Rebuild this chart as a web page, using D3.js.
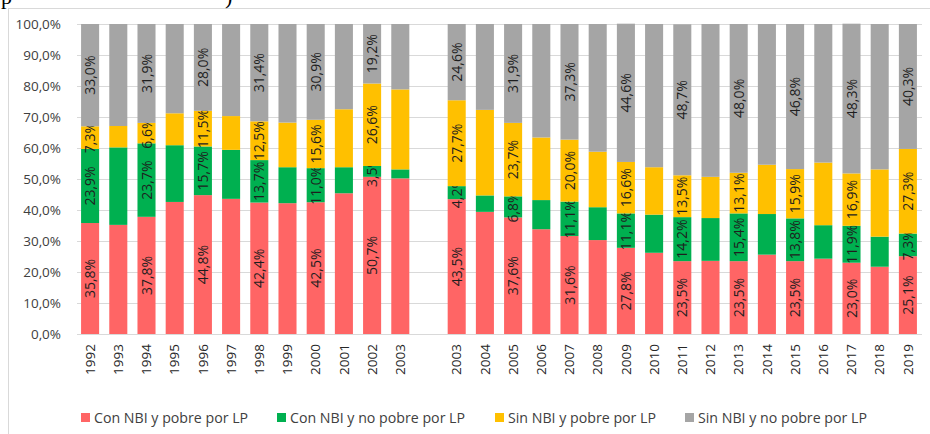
<!DOCTYPE html>
<html>
<head>
<meta charset="utf-8">
<script src="https://cdn.jsdelivr.net/npm/d3@7"></script>
<style>
    body { margin: 0; background: #fff; }
    svg { display: block; font-family: "Open Sans", sans-serif; }
</style>
</head>
<body>
<svg id="chart" width="930" height="434"></svg>
<script>
var years1 = ['1992', '1993', '1994', '1995', '1996', '1997', '1998', '1999', '2000', '2001', '2002', '2003'];
var years2 = ['2003', '2004', '2005', '2006', '2007', '2008', '2009', '2010', '2011', '2012', '2013',
    '2014', '2015', '2016', '2017', '2018', '2019'];

// % of households, first block then second block
var conPobre = [35.8, 35.2, 37.8, 42.6, 44.8, 43.6, 42.4, 42.2, 42.5, 45.4, 50.7, 50.2,
    43.5, 39.4, 37.6, 33.8, 31.6, 30.3, 27.8, 26.2, 23.5, 23.6, 23.5, 25.6, 23.5, 24.3, 23.0, 21.7, 25.1];
var conNoPobre = [23.9, 25.0, 23.7, 18.3, 15.7, 15.8, 13.7, 11.6, 11.0, 8.4, 3.5, 2.9,
    4.2, 5.3, 6.8, 9.4, 11.1, 10.6, 11.1, 12.3, 14.2, 13.8, 15.4, 13.1, 13.8, 10.8, 11.9, 9.7, 7.3];
var sinPobre = [7.3, 6.9, 6.6, 10.3, 11.5, 10.9, 12.5, 14.4, 15.6, 18.7, 26.6, 25.8,
    27.7, 27.6, 23.7, 20.2, 20.0, 17.9, 16.6, 15.3, 13.5, 13.3, 13.1, 15.9, 15.9, 20.2, 16.9, 21.7, 27.3];
var sinNoPobre = [33.0, 32.9, 31.9, 28.8, 28.0, 29.7, 31.4, 31.8, 30.9, 27.5, 19.2, 21.1,
    24.6, 27.7, 31.9, 36.6, 37.3, 41.2, 44.6, 46.2, 48.7, 49.3, 48.0, 45.4, 46.8, 44.7, 48.3, 46.9, 40.3];

// bars that carry value labels
var labeled = ['a1992', 'a1994', 'a1996', 'a1998', 'a2000', 'a2002',
    'b2003', 'b2005', 'b2007', 'b2009', 'b2011', 'b2013', 'b2015', 'b2017', 'b2019'];

var seriesNames = ['Con NBI y pobre por LP', 'Con NBI y no pobre por LP',
    'Sin NBI y pobre por LP', 'Sin NBI y no pobre por LP'];
var seriesKeys = ['conPobre', 'conNoPobre', 'sinPobre', 'sinNoPobre'];
var colors = ['#ff6565', '#00b050', '#ffc000', '#a5a5a5'];

var yTicks = [0, 10, 20, 30, 40, 50, 60, 70, 80, 90, 100];

var keys = years1.map(function (y) { return 'a' + y; })
    .concat(['gap'])
    .concat(years2.map(function (y) { return 'b' + y; }));

var rows = years1.map(function (y) { return 'a' + y; })
    .concat(years2.map(function (y) { return 'b' + y; }))
    .map(function (k, i) {
        return {
            key: k,
            conPobre: conPobre[i],
            conNoPobre: conNoPobre[i],
            sinPobre: sinPobre[i],
            sinNoPobre: sinNoPobre[i]
        };
    });

var fmt = function (v) { return d3.format('.1f')(v).replace('.', ',') + '%'; };

var svg = d3.select('svg#chart');

// chart frame
svg.append('rect')
    .attr('x', 8.5).attr('y', 8.5)
    .attr('width', 940).attr('height', 440)
    .attr('fill', 'none')
    .attr('stroke', '#d9d9d9') ;

// tail of the document text above the chart
svg.append('text').attr('x', 1).attr('y', 4)
    .attr('font-family', 'Liberation Serif, serif').attr('font-size', 22)
    .text('p') ;
svg.append('text').attr('x', 225).attr('y', 4)
    .attr('font-family', 'Liberation Serif, serif').attr('font-size', 22)
    .text(')') ;

var x = d3.scaleBand()
    .domain(keys)
    .range([76, 922])
    .paddingInner(0.36)
    .paddingOuter(0.18) ;

var y = d3.scaleLinear()
    .domain([0, 100])
    .range([334, 24]) ;

// grid
svg.append('g')
    .selectAll('line')
    .data(yTicks)
    .enter().append('line')
    .attr('x1', 77).attr('x2', 922)
    .attr('y1', function (d) { return Math.round(y(d)) + 0.5; })
    .attr('y2', function (d) { return Math.round(y(d)) + 0.5; })
    .attr('stroke', '#d9d9d9') ;

// y axis labels
var yAxis = svg.append('g')
    .attr('transform', 'translate(61,0)')
    .call(d3.axisLeft(y).tickValues(yTicks).tickSize(0).tickPadding(0)
        .tickFormat(fmt)) ;
yAxis.select('.domain').remove();
yAxis.selectAll('text')
    .attr('font-family', 'Open Sans, sans-serif')
    .attr('font-size', 13.5)
    .attr('fill', '#404040') ;

// bars
var stacked = d3.stack().keys(seriesKeys)(rows);

var layers = svg.append('g')
    .selectAll('g.layer')
    .data(stacked)
    .enter().append('g')
    .classed('layer', true)
    .attr('fill', function (d, i) { return colors[i]; }) ;

layers.selectAll('rect')
    .data(function (d) { return d; })
    .enter().append('rect')
    .attr('x', function (d) { return x(d.data.key); })
    .attr('width', x.bandwidth())
    .attr('y', function (d) { return y(d[1]); })
    .attr('height', function (d) { return y(d[0]) - y(d[1]); }) ;

// value labels
layers.selectAll('text')
    .data(function (d) {
        return d.filter(function (p) { return labeled.indexOf(p.data.key) >= 0; })
            .map(function (p) { return { p: p, v: p.data[d.key] }; });
    })
    .enter().append('text')
    .attr('transform', function (d) {
        var cx = x(d.p.data.key) + x.bandwidth() / 2;
        var cy = y((d.p[0] + d.p[1]) / 2);
        return 'translate(' + (cx + 5) + ',' + cy + ') rotate(-90)';
    })
    .attr('text-anchor', 'middle')
    .attr('font-family', 'Open Sans, sans-serif')
    .attr('font-size', 14)
    .attr('fill', '#1e1e1e')
    .text(function (d) { return fmt(d.v); }) ;

// x axis labels
var xAxis = svg.append('g')
    .attr('transform', 'translate(0,344)')
    .call(d3.axisBottom(x).tickSize(0).tickPadding(0)
        .tickFormat(function (k) { return k === 'gap' ? '' : k.slice(1); })) ;
xAxis.select('.domain').remove();
xAxis.selectAll('text')
    .attr('font-family', 'Open Sans, sans-serif')
    .attr('font-size', 13.5)
    .attr('fill', '#262626')
    .attr('text-anchor', 'end')
    .attr('dy', '0.35em')
    .attr('transform', 'rotate(-90)')
    .attr('x', 0)
    .attr('y', 0) ;

// legend
var legendX = [81, 277, 495, 685];
var legend = svg.append('g')
    .selectAll('g')
    .data(seriesNames)
    .enter().append('g')
    .attr('transform', function (d, i) { return 'translate(' + legendX[i] + ',413)'; }) ;
legend.append('rect')
    .attr('width', 9).attr('height', 9)
    .attr('fill', function (d, i) { return colors[i]; }) ;
legend.append('text')
    .attr('x', 13)
    .attr('y', 10)
    .attr('font-family', 'Open Sans, sans-serif')
    .attr('font-size', 14.2)
    .attr('fill', '#404040')
    .text(function (d) { return d; }) ;
</script>
</body>
</html>
